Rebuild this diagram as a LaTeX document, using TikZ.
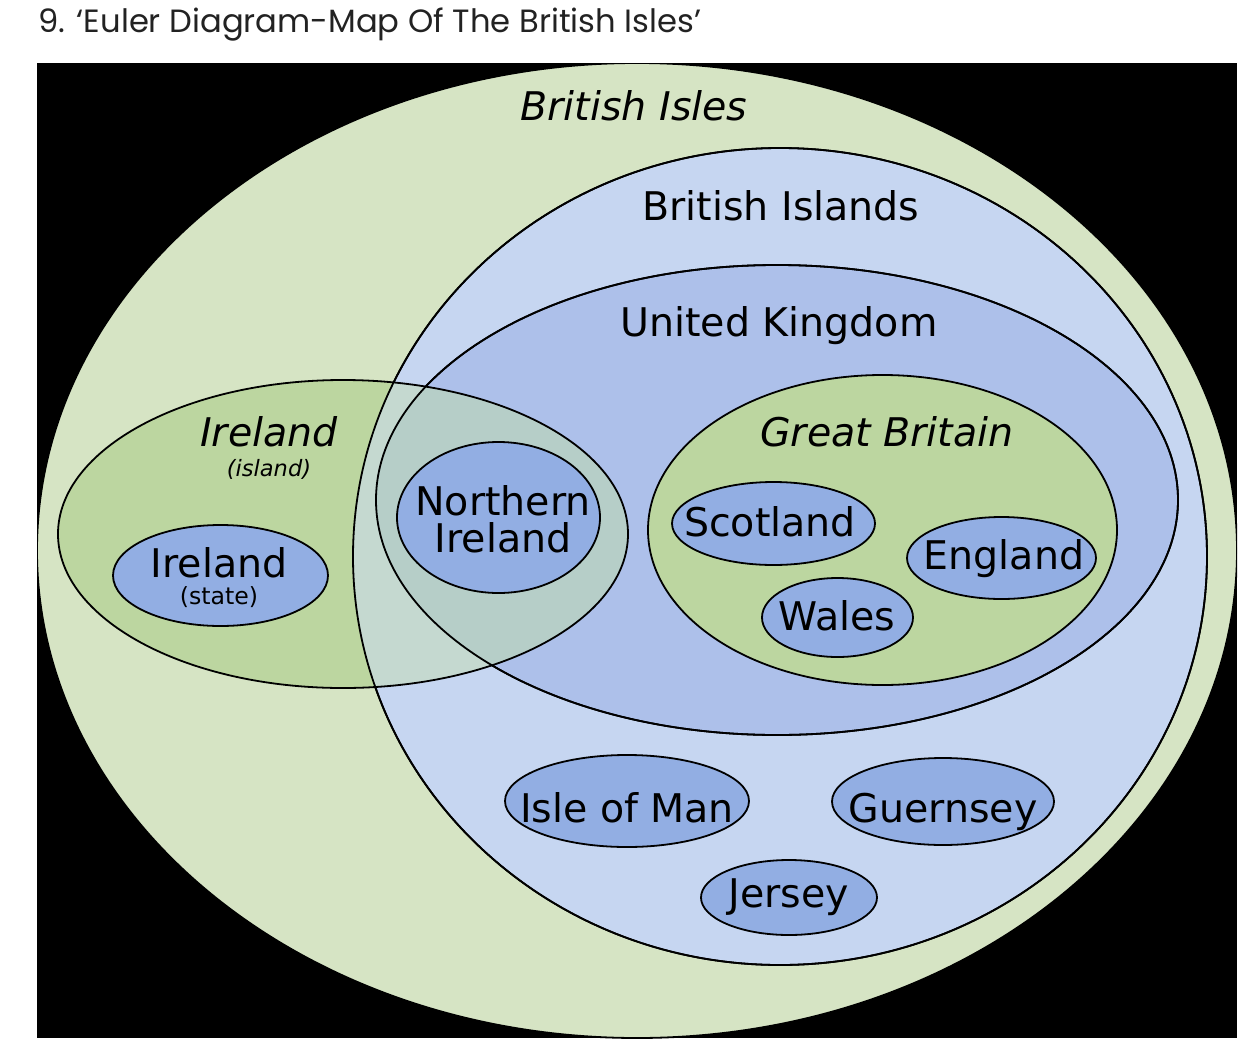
\documentclass[tikz,border=0pt]{standalone}
\usepackage{fontspec}
\setmainfont{DejaVu Sans}
\newfontfamily\titlefont{Poppins}
\definecolor{islesgreen}{RGB}{214,228,196}
\definecolor{islandsblue}{RGB}{198,214,241}
\definecolor{ukblue}{RGB}{173,192,234}
\definecolor{irlgreen}{RGB}{188,214,160}
\definecolor{sageone}{RGB}{197,217,208}
\definecolor{sagetwo}{RGB}{182,206,200}
\definecolor{smallblue}{RGB}{146,174,227}
\definecolor{titlegray}{RGB}{34,34,34}
\begin{document}
\begin{tikzpicture}[x=0.5pt,y=-0.5pt,
  outline/.style={draw=black, line width=0.9pt},
  lab/.style={font=\fontsize{19.75}{23}\selectfont, anchor=base, inner sep=0pt, text=black},
  ilab/.style={lab, font=\fontsize{19.75}{23}\selectfont\itshape},
  slab/.style={lab, font=\fontsize{11.8}{13}\selectfont},
  islab/.style={lab, font=\fontsize{11.25}{13}\selectfont\itshape}]
\useasboundingbox (0,0) rectangle (1248,1050);
\fill[white] (0,0) rectangle (1248,1050);
\node[anchor=base west, inner sep=0pt, font=\titlefont\fontsize{16.1}{18}\selectfont, text=titlegray] (title) at (38,32) {9. ‘Euler Diagram-Map Of The British Isles’};
\fill[black] (37,63) rectangle (1237,1038);
% centres
\coordinate (cIsles) at (637,550.5);
\coordinate (cIslands) at (780,556.5);
\coordinate (cUK) at (777,500);
\coordinate (cIrl) at (343,534);
\coordinate (cGB) at (882.5,530);
\coordinate (cNI) at (498.5,517.5);
\coordinate (cIS) at (220.5,575.5);
\coordinate (cSco) at (773.5,523.5);
\coordinate (cEng) at (1001.5,558);
\coordinate (cWal) at (837.5,617.5);
\coordinate (cMan) at (627,801);
\coordinate (cGue) at (943,801.5);
\coordinate (cJer) at (789,897.5);
\begin{scope}
\clip (37,63) rectangle (1237,1038);
\path[fill=islesgreen, outline] (cIsles) ellipse [x radius=300pt, y radius=243.75pt];
\path[fill=islandsblue, outline] (cIslands) ellipse [x radius=213.5pt, y radius=204.25pt];
\path[fill=ukblue, outline] (cUK) ellipse [x radius=200.5pt, y radius=117.5pt];
\path[fill=irlgreen] (cIrl) ellipse [x radius=142.5pt, y radius=77pt];
\begin{scope}
\clip (cIrl) ellipse [x radius=142.5pt, y radius=77pt];
\fill[sageone] (cIslands) ellipse [x radius=213.5pt, y radius=204.25pt];
\fill[sagetwo] (cUK) ellipse [x radius=200.5pt, y radius=117.5pt];
\end{scope}
\draw[outline] (cIslands) ellipse [x radius=213.5pt, y radius=204.25pt];
\draw[outline] (cUK) ellipse [x radius=200.5pt, y radius=117.5pt];
\draw[outline] (cIrl) ellipse [x radius=142.5pt, y radius=77pt];
\path[fill=irlgreen, outline] (cGB) ellipse [x radius=117.25pt, y radius=77.5pt];
\path[fill=smallblue, outline] (cNI) ellipse [x radius=50.75pt, y radius=37.75pt];
\path[fill=smallblue, outline] (cIS) ellipse [x radius=53.75pt, y radius=25.25pt];
\path[fill=smallblue, outline] (cSco) ellipse [x radius=50.75pt, y radius=20.75pt];
\path[fill=smallblue, outline] (cEng) ellipse [x radius=47.25pt, y radius=20.5pt];
\path[fill=smallblue, outline] (cWal) ellipse [x radius=37.75pt, y radius=19.75pt];
\path[fill=smallblue, outline] (cMan) ellipse [x radius=61pt, y radius=23pt];
\path[fill=smallblue, outline] (cGue) ellipse [x radius=55.5pt, y radius=21.75pt];
\path[fill=smallblue, outline] (cJer) ellipse [x radius=44pt, y radius=18.75pt];
\end{scope}
% labels
\node[ilab] (tIsles) at (634,120) {British Isles};
\node[lab] (tIslands) at (781,220) {British Islands};
\node[lab] (tUK) at (779,336) {United Kingdom};
\node[ilab] (tIrl) at (269,446) {Ireland};
\node[islab] (tIrlSub) at (269,476) {(island)};
\node[lab] (tIS) at (219,577) {Ireland};
\node[slab] (tISSub) at (219,604) {(state)};
\node[lab] (tNI1) at (503,515) {Northern};
\node[lab] (tNI2) at (503,552) {Ireland};
\node[ilab] (tGB) at (887,446) {Great Britain};
\node[lab] (tSco) at (770,536) {Scotland};
\node[lab] (tEng) at (1004,569) {England};
\node[lab] (tWal) at (837,630) {Wales};
\node[lab] (tMan) at (627,822) {Isle of Man};
\node[lab] (tGue) at (943,822) {Guernsey};
\node[lab] (tJer) at (789,907) {Jersey};
\end{tikzpicture}
\end{document}
